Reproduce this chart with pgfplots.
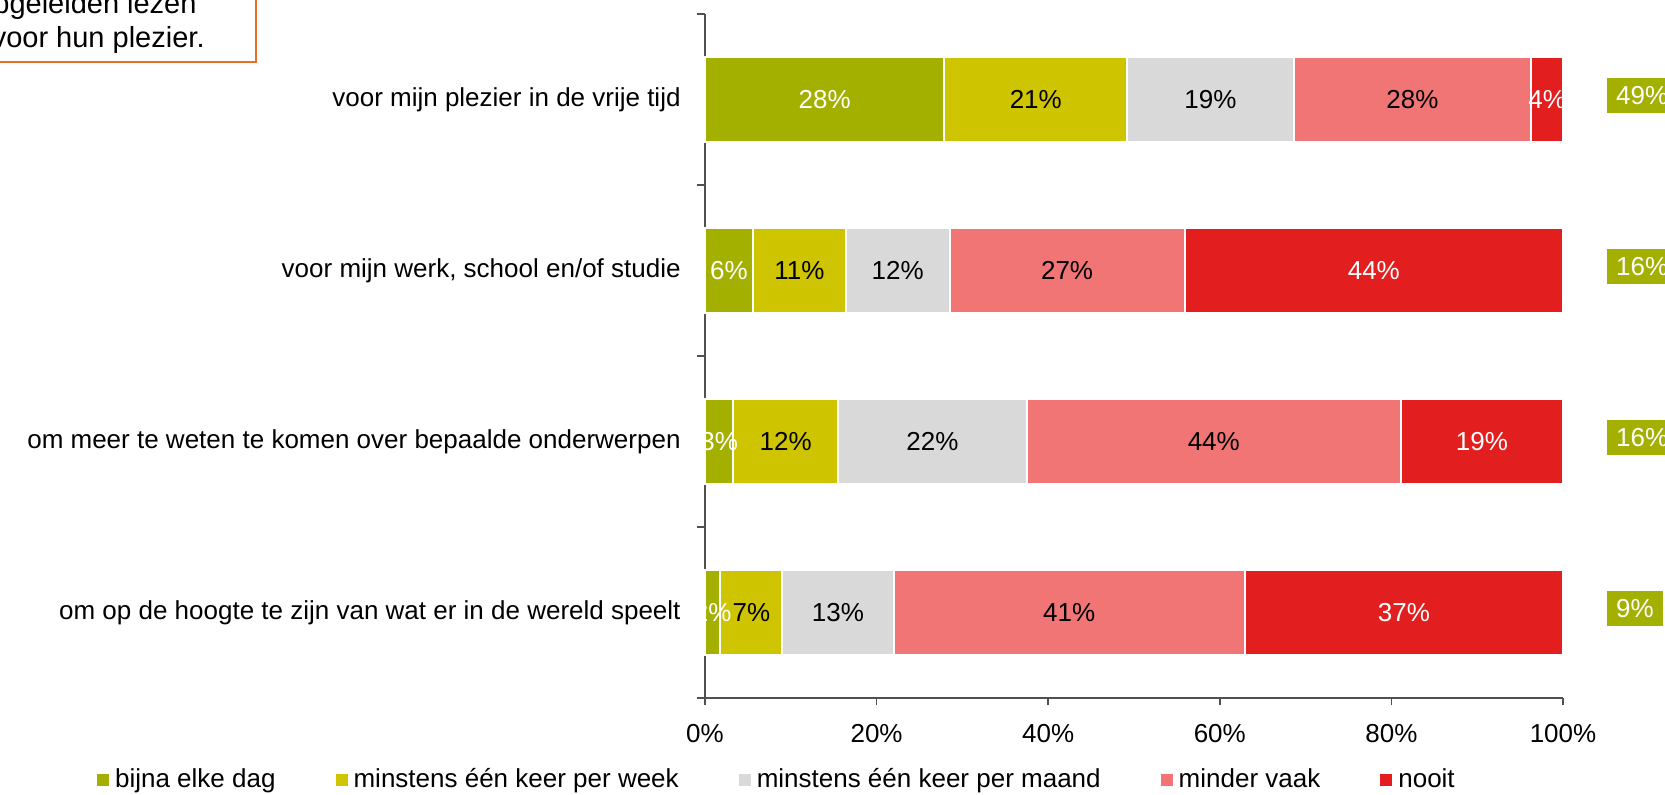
\documentclass[border=0pt]{standalone}
\usepackage{pgfplots}
\pgfplotsset{compat=1.18}
\usepackage{fontspec}
\setmainfont{Liberation Sans}
\definecolor{cGreen}{RGB}{163,176,0}
\definecolor{cYellow}{RGB}{207,196,0}
\definecolor{cGrey}{RGB}{217,217,217}
\definecolor{cPink}{RGB}{241,117,117}
\definecolor{cRed}{RGB}{227,30,30}
\definecolor{cAxis}{RGB}{80,80,80}
\definecolor{cOrange}{RGB}{232,110,40}

% same frame for the bar axis and the label axis
\pgfplotsset{
  frame/.style={
    at={(352.5pt,-349pt)}, anchor=south west,
    scale only axis, width=429pt, height=342pt,
    xmin=0, xmax=100, ymin=0.5, ymax=4.5,
    clip=false,
  },
  lbl/.style={draw=none, mark=none, nodes near coords, point meta=explicit symbolic,
    every node near coord/.append style={anchor=center, text=#1}},
}

\begin{document}
\fontsize{13}{15.6}\selectfont
\begin{tikzpicture}
\useasboundingbox (0pt,0pt) rectangle (832.5pt,-397pt);

% cut-off note box, top left
\draw[cOrange, line width=0.6pt, fill=white] (-10pt,10pt) rectangle (128pt,-31pt);
\node[anchor=base east, inner sep=0pt, font=\fontsize{14.5}{17}\selectfont] at (98.5pt,-6.5pt) {Hoogopgeleiden lezen};
\node[anchor=base east, inner sep=0pt, font=\fontsize{14.5}{17}\selectfont] at (102.5pt,-23.5pt) {voor hun plezier.};

\begin{axis}[frame,
  xbar stacked, bar width=42.5pt,
  axis x line*=bottom, axis y line*=left,
  axis line style={-, cAxis, line width=0.8pt},
  tick align=outside,
  major tick length=3.5pt, minor tick length=4pt,
  xtick={0,20,40,60,80,100},
  xticklabels={0\%,20\%,40\%,60\%,80\%,100\%},
  ytick={1,2,3,4},
  yticklabels={om op de hoogte te zijn van wat er in de wereld speelt,
               om meer te weten te komen over bepaalde onderwerpen,
               {voor mijn werk, school en/of studie},
               voor mijn plezier in de vrije tijd},
  minor ytick={0.5,1.5,2.5,3.5,4.5},
  major y tick style={draw=none},
  every tick/.style={cAxis, line width=0.8pt},
  y tick label style={inner xsep=0pt, xshift=-8.5pt},
  x tick label style={yshift=-5pt},
  legend style={at={(0.085,-0.12)}, anchor=center, draw=none,
    legend columns=-1,
    /tikz/every odd column/.append style={column sep=1pt},
    /tikz/every even column/.append style={column sep=28pt}},
  legend image code/.code={\fill[#1, draw=none] (0pt,-3pt) rectangle (6pt,3pt);},
]
\addplot[fill=cGreen, draw=white, line width=1pt]  coordinates {(27.9,4) (5.6,3) (3.3,2) (1.8,1)};
\addplot[fill=cYellow, draw=white, line width=1pt] coordinates {(21.3,4) (10.8,3) (12.2,2) (7.2,1)};
\addplot[fill=cGrey, draw=white, line width=1pt]   coordinates {(19.4,4) (12.1,3) (22.0,2) (13.0,1)};
\addplot[fill=cPink, draw=white, line width=1pt]   coordinates {(27.7,4) (27.4,3) (43.6,2) (40.9,1)};
\addplot[fill=cRed, draw=white, line width=1pt]    coordinates {(3.7,4) (44.1,3) (18.9,2) (37.1,1)};
\legend{bijna elke dag, minstens één keer per week, minstens één keer per maand, minder vaak, nooit}
\end{axis}

% segment labels and the green totals on the right
\begin{axis}[frame, hide axis]
\addplot[lbl=white] coordinates {(13.95,4) [28\%] (2.8,3) [6\%] (1.65,2) [3\%] (0.9,1) [2\%]};
\addplot[lbl=black] coordinates {(38.55,4) [21\%] (11.0,3) [11\%] (9.4,2) [12\%] (5.4,1) [7\%]};
\addplot[lbl=black] coordinates {(58.9,4) [19\%] (22.45,3) [12\%] (26.5,2) [22\%] (15.5,1) [13\%]};
\addplot[lbl=black] coordinates {(82.45,4) [28\%] (42.2,3) [27\%] (59.3,2) [44\%] (42.45,1) [41\%]};
\addplot[lbl=white] coordinates {(98.15,4) [4\%] (77.95,3) [44\%] (90.55,2) [19\%] (81.45,1) [37\%]};
\addplot[draw=none, mark=none, nodes near coords, point meta=explicit symbolic,
  every node near coord/.append style={anchor=west, fill=cGreen, text=white,
    inner xsep=4.5pt, inner ysep=0pt, minimum height=17.5pt, yshift=2pt}]
  coordinates {(105.1,4) [49\%] (105.1,3) [16\%] (105.1,2) [16\%] (105.1,1) [9\%]};
\end{axis}
\end{tikzpicture}
\end{document}
